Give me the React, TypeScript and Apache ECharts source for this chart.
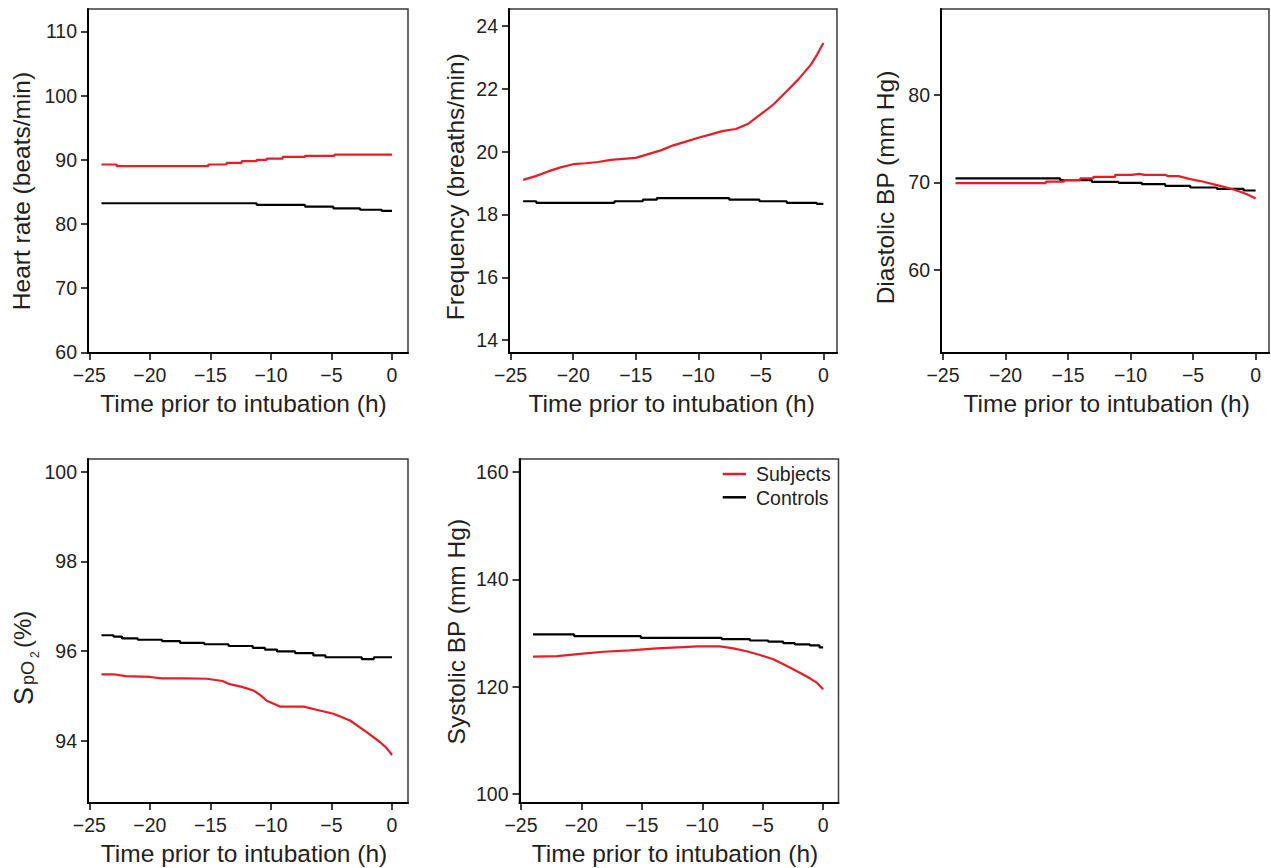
import React, { useEffect, useRef } from "react";
import * as echarts from "echarts";

// ---------- data ----------
const TIME_TICKS = [-25, -20, -15, -10, -5, 0];
const HR_TICKS = [60, 70, 80, 90, 100, 110];
const RR_TICKS = [14, 16, 18, 20, 22, 24];
const DBP_TICKS = [60, 70, 80];
const SPO2_TICKS = [94, 96, 98, 100];
const SBP_TICKS = [100, 120, 140, 160];

const SERIES_NAMES = ["Subjects", "Controls"];

// Heart rate (step series, value holds from its time to next time)
const hrSubjects: [number, number][] = [
  [-24, 89.27], [-22.74, 89.01], [-15.17, 89.27], [-13.66, 89.53], [-12.42, 89.79],
  [-11.18, 90.0], [-10.35, 90.2], [-9.03, 90.47], [-7.19, 90.62], [-4.76, 90.8], [0, 90.8],
];
const hrControls: [number, number][] = [
  [-24, 83.23], [-11.18, 82.97], [-7.19, 82.72], [-4.85, 82.45], [-2.64, 82.22], [-0.85, 82.03], [0, 82.03],
];

// Respiratory frequency
const rrSubjects: [number, number][] = [
  [-24, 19.1], [-23, 19.22], [-22, 19.37], [-21, 19.5], [-20, 19.6], [-19, 19.63], [-18, 19.67],
  [-17, 19.74], [-16, 19.77], [-15, 19.8], [-14, 19.92], [-13, 20.04], [-12, 20.2], [-11, 20.32],
  [-10, 20.44], [-9, 20.55], [-8, 20.66], [-7, 20.72], [-6, 20.89], [-5, 21.19], [-4, 21.5],
  [-3, 21.9], [-2, 22.3], [-1, 22.77], [-0.5, 23.09], [0, 23.46],
];
const rrControls: [number, number][] = [
  [-24, 18.42], [-22.95, 18.37], [-16.7, 18.42], [-14.43, 18.47], [-13.31, 18.52],
  [-7.53, 18.47], [-5.11, 18.42], [-2.93, 18.37], [-0.53, 18.34], [0, 18.34],
];

// Diastolic BP
const dbpSubjects: [number, number][] = [
  [-24, 69.92], [-16.78, 69.92], [-16.78, 70.11], [-15.31, 70.11], [-15.31, 70.27], [-14.03, 70.27],
  [-14.03, 70.46], [-12.97, 70.46], [-12.97, 70.65], [-11.23, 70.65], [-11.23, 70.87], [-9.9, 70.87],
  [-9.29, 70.99], [-8.9, 70.87], [-7.23, 70.87], [-7.0, 70.72], [-6.16, 70.72], [-5.23, 70.38],
  [-4.16, 70.08], [-3.1, 69.7], [-2.03, 69.32], [-1.23, 68.94], [-0.7, 68.67], [0, 68.17],
];
const dbpControls: [number, number][] = [
  [-24, 70.46], [-15.63, 70.27], [-13.1, 70.08], [-10.97, 69.96], [-9.1, 69.81],
  [-7.23, 69.62], [-5.23, 69.43], [-3.1, 69.28], [-0.96, 69.09], [0, 69.09],
];

// SpO2
const spo2Subjects: [number, number][] = [
  [-24, 95.48], [-23, 95.48], [-22, 95.44], [-20, 95.42], [-19, 95.39], [-17, 95.39], [-15.3, 95.38],
  [-14, 95.33], [-13.4, 95.26], [-12.4, 95.2], [-11.45, 95.12], [-10.9, 95.02], [-10.35, 94.89],
  [-9.25, 94.76], [-7.3, 94.76], [-6.24, 94.69], [-4.85, 94.6], [-3.47, 94.45], [-2.1, 94.19],
  [-1.0, 93.97], [-0.5, 93.85], [0, 93.68],
];
const spo2Controls: [number, number][] = [
  [-24, 96.35], [-23, 96.32], [-22.3, 96.28], [-21, 96.25], [-19, 96.22], [-17.5, 96.18],
  [-15.5, 96.15], [-13.5, 96.11], [-11.5, 96.07], [-10.5, 96.03], [-9.5, 95.99], [-8, 95.95],
  [-6.5, 95.9], [-5.5, 95.86], [-2.5, 95.82], [-1.5, 95.86], [0, 95.86],
];

// Systolic BP
const sbpSubjects: [number, number][] = [
  [-24, 125.6], [-22, 125.7], [-20.1, 126.1], [-18.17, 126.5], [-16, 126.76], [-13.77, 127.13],
  [-11.56, 127.38], [-10.46, 127.5], [-8.53, 127.5], [-7.43, 127.13], [-6.33, 126.6], [-5.23, 125.9],
  [-4.13, 125.1], [-3.0, 123.84], [-1.93, 122.6], [-1.1, 121.55], [-0.5, 120.7], [0, 119.5],
];
const sbpControls: [number, number][] = [
  [-24, 129.73], [-20.6, 129.42], [-15.09, 129.1], [-8.4, 128.87], [-6.06, 128.6],
  [-4.54, 128.37], [-3.3, 128.1], [-2.34, 127.87], [-1.1, 127.7], [-0.3, 127.3], [0, 127.3],
];

// ---------- layout ----------
const RED = "#ec1c24";
const BLACK = "#000000";
const TEXT = "#231f20";
const FONT = "'Liberation Sans', Arial, Helvetica, sans-serif";

type Panel = {
  grid: { left: number; top: number; width: number; height: number };
  x: [number, number];
  y: [number, number];
  yTicks: number[];
  subj: [number, number][];
  ctrl: [number, number][];
  subjStep: boolean;
};

const PANELS: Panel[] = [
  { grid: { left: 88, top: 9, width: 320, height: 344 }, x: [-25.11, 1.32], y: [59.9, 113.5], yTicks: HR_TICKS, subj: hrSubjects, ctrl: hrControls, subjStep: true },
  { grid: { left: 509, top: 9, width: 328, height: 344 }, x: [-25.13, 1.09], y: [13.59, 24.54], yTicks: RR_TICKS, subj: rrSubjects, ctrl: rrControls, subjStep: false },
  { grid: { left: 941, top: 9, width: 328, height: 344 }, x: [-25.16, 1.07], y: [50.57, 89.77], yTicks: DBP_TICKS, subj: dbpSubjects, ctrl: dbpControls, subjStep: false },
  { grid: { left: 88, top: 459, width: 320, height: 344 }, x: [-25.11, 1.32], y: [92.61, 100.28], yTicks: SPO2_TICKS, subj: spo2Subjects, ctrl: spo2Controls, subjStep: false },
  { grid: { left: 519.5, top: 459, width: 319, height: 344 }, x: [-25.12, 1.27], y: [98.33, 162.4], yTicks: SBP_TICKS, subj: sbpSubjects, ctrl: sbpControls, subjStep: false },
];

const fmt = (v: number) => (v < 0 ? "\u2212" + Math.abs(v) : String(v));

const TITLE_FS = 24.5;
const TICK_FS = 19.5;

function buildOption() {
  const grid = PANELS.map((p) => ({
    ...p.grid,
    show: true,
    borderColor: "#3a3a3a",
    borderWidth: 1.5,
    backgroundColor: "transparent",
    containLabel: false,
  }));
  const axisCommon = {
    axisLine: { show: true, onZero: false, lineStyle: { color: BLACK, width: 2 } },
    splitLine: { show: false },
  };
  const xAxis = PANELS.map((p, i) => ({
    type: "value",
    gridIndex: i,
    min: p.x[0],
    max: p.x[1],
    ...axisCommon,
    axisTick: { show: true, length: 7, lineStyle: { color: BLACK, width: 1.5 }, customValues: TIME_TICKS },
    axisLabel: { customValues: TIME_TICKS, formatter: fmt, margin: 12, fontSize: TICK_FS, color: TEXT, fontFamily: FONT },
  }));
  const yAxis = PANELS.map((p, i) => ({
    type: "value",
    gridIndex: i,
    min: p.y[0],
    max: p.y[1],
    ...axisCommon,
    axisTick: { show: true, length: 7, lineStyle: { color: BLACK, width: 1.5 }, customValues: p.yTicks },
    axisLabel: { customValues: p.yTicks, formatter: fmt, margin: 11, fontSize: TICK_FS, color: TEXT, fontFamily: FONT },
  }));
  const series: any[] = [];
  PANELS.forEach((p, i) => {
    series.push({
      name: SERIES_NAMES[0],
      type: "line",
      xAxisIndex: i,
      yAxisIndex: i,
      data: p.subj,
      step: p.subjStep ? "end" : false,
      showSymbol: false,
      lineStyle: { color: RED, width: 2.2 },
      itemStyle: { color: RED },
      z: 3,
    });
    series.push({
      name: SERIES_NAMES[1],
      type: "line",
      xAxisIndex: i,
      yAxisIndex: i,
      data: p.ctrl,
      step: "end",
      showSymbol: false,
      lineStyle: { color: BLACK, width: 2.2 },
      itemStyle: { color: BLACK },
      z: 2,
    });
  });

  const xTitle = (x: number, y: number) => ({
    type: "text",
    x,
    y,
    style: { text: "Time prior to intubation (h)", fontSize: TITLE_FS, fontFamily: FONT, fill: TEXT, align: "center", verticalAlign: "middle" },
  });
  const yTitle = (text: string, x: number, y: number) => ({
    type: "text",
    x,
    y,
    rotation: Math.PI / 2,
    style: { text, fontSize: TITLE_FS, fontFamily: FONT, fill: TEXT, align: "center", verticalAlign: "middle" },
  });

  const graphic: any[] = [
    xTitle(243.5, 403.8),
    xTitle(671.7, 403.8),
    xTitle(1106.7, 403.8),
    xTitle(244, 853.2),
    xTitle(675, 853.2),
    yTitle("Heart rate (beats/min)", 21.7, 191),
    yTitle("Frequency (breaths/min)", 455, 186.7),
    yTitle("Diastolic BP (mm Hg)", 885, 187.5),
    yTitle("Systolic BP (mm Hg)", 456, 631.7),
    {
      type: "group",
      x: 0,
      y: 705,
      rotation: Math.PI / 2,
      children: [
        { type: "text", x: 0, y: 23.5, style: { text: "S", fontSize: 27, fontFamily: FONT, fill: TEXT, align: "left", verticalAlign: "middle" } },
        { type: "text", x: 20, y: 27.5, style: { text: "pO", fontSize: 18, fontFamily: FONT, fill: TEXT, align: "left", verticalAlign: "middle" } },
        { type: "text", x: 47, y: 35.3, style: { text: "2", fontSize: 12, fontFamily: FONT, fill: TEXT, align: "left", verticalAlign: "middle" } },
        { type: "text", x: 57, y: 22.2, style: { text: "(%)", fontSize: 24, fontFamily: FONT, fill: TEXT, align: "left", verticalAlign: "middle" } },
      ],
    },
    // legend
    { type: "line", shape: { x1: 722.7, y1: 474, x2: 746, y2: 474 }, style: { stroke: RED, lineWidth: 2.5 } },
    { type: "line", shape: { x1: 722.7, y1: 497.3, x2: 746, y2: 497.3 }, style: { stroke: BLACK, lineWidth: 2.5 } },
    { type: "text", x: 756, y: 474.2, style: { text: SERIES_NAMES[0], fontSize: 19.5, fontFamily: FONT, fill: TEXT, align: "left", verticalAlign: "middle" } },
    { type: "text", x: 756, y: 498.2, style: { text: SERIES_NAMES[1], fontSize: 19.5, fontFamily: FONT, fill: TEXT, align: "left", verticalAlign: "middle" } },
  ];

  return {
    animation: false,
    backgroundColor: "#ffffff",
    grid,
    xAxis,
    yAxis,
    series,
    graphic,
  };
}

export default function App() {
  const ref = useRef<HTMLDivElement>(null);
  useEffect(() => {
    if (!ref.current) return;
    const chart = echarts.init(ref.current, undefined, { renderer: "svg" });
    chart.setOption(buildOption() as any);
    return () => chart.dispose();
  }, []);
  return (
    <div
      ref={ref}
      style={{ position: "fixed", left: 0, top: 0, width: 1271, height: 868, background: "#fff" }}
    />
  );
}
